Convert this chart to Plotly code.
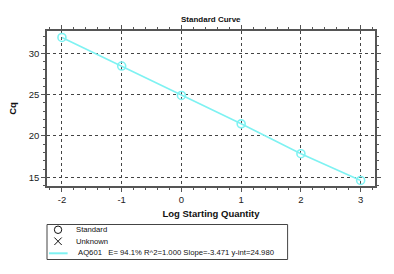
import plotly.graph_objects as go

# ---- data ----
log_qty = [-2, -1, 0, 1, 2, 3]
cq = [31.92, 28.46, 24.9, 21.47, 17.86, 14.62]
x_ticks = [-2, -1, 0, 1, 2, 3]
y_ticks = [15, 20, 25, 30]
legend_labels = ["Standard", "Unknown", "AQ601   E= 94.1% R^2=1.000 Slope=-3.471 y-int=24.980"]

CYAN = "#7ef2f2"
AXC = "#555555"
FONT = "Liberation Sans, Arial, sans-serif"

W, H = 394, 274
ML, MR, MT, MB = 41, 19, 31, 88
PW, PH = W - ML - MR, H - MT - MB

def px(x):
    return (x - ML) / PW

def py(y):
    return (H - MB - y) / PH

fig = go.Figure()
fig.add_trace(go.Scatter(
    x=log_qty, y=cq, mode="lines+markers",
    line=dict(color=CYAN, width=1.6),
    marker=dict(symbol="circle-open", size=8, color=CYAN, line=dict(width=1.6, color=CYAN)),
    showlegend=False, hoverinfo="x+y",
))

axis_common = dict(
    showline=True, linecolor=AXC, linewidth=1.5, mirror="allticks",
    ticks="outside", ticklen=4, tickwidth=1, tickcolor=AXC,
    showgrid=True, gridcolor="#444444", griddash="dot", gridwidth=1,
    zeroline=False,
    tickfont=dict(family=FONT, size=9.5, color="#222222"),
)

fig.update_xaxes(
    range=[-2.25, 3.24], tickvals=x_ticks, ticktext=[str(v) for v in x_ticks],
    minor=dict(dtick=0.2, tick0=0, ticks="outside", ticklen=2, tickcolor=AXC, showgrid=False),
    title=dict(text="<b>Log Starting Quantity</b>", font=dict(family=FONT, size=9.5, color="#111"), standoff=6),
    **axis_common,
)
fig.update_yaxes(
    range=[13.95, 32.7], tickvals=y_ticks, ticktext=[str(v) for v in y_ticks],
    minor=dict(dtick=1, tick0=0, ticks="outside", ticklen=2, tickcolor=AXC, showgrid=False),
    title=dict(text="<b>Cq</b>", font=dict(family=FONT, size=9.5, color="#111"), standoff=10),
    **axis_common,
)

# ---- manual legend box ----
shapes = [
    dict(type="rect", xref="paper", yref="paper",
         x0=px(41), x1=px(286), y0=py(224.5), y1=py(259.5),
         line=dict(color="#444444", width=1), fillcolor="white"),
    # circle symbol
    dict(type="circle", xref="paper", yref="paper",
         x0=px(48.5), x1=px(56), y0=py(226), y1=py(233.5),
         line=dict(color="#111111", width=1)),
    # X symbol
    dict(type="line", xref="paper", yref="paper",
         x0=px(48.5), x1=px(56), y0=py(237.5), y1=py(245),
         line=dict(color="#111111", width=1)),
    dict(type="line", xref="paper", yref="paper",
         x0=px(48.5), x1=px(56), y0=py(245), y1=py(237.5),
         line=dict(color="#111111", width=1)),
    # cyan line symbol
    dict(type="line", xref="paper", yref="paper",
         x0=px(43), x1=px(62), y0=py(253.3), y1=py(253.3),
         line=dict(color=CYAN, width=2)),
]

annotations = [
    dict(text="<b>Standard Curve</b>", xref="paper", yref="paper",
         x=px(208), y=py(20), showarrow=False, xanchor="center", yanchor="middle",
         font=dict(family=FONT, size=8, color="#111")),
]
legend_pos = [(68, 229.7), (68, 241), (71, 252.8)]
for lab, (lx, ly) in zip(legend_labels, legend_pos):
    annotations.append(dict(text=lab, xref="paper", yref="paper", x=px(lx), y=py(ly),
                            showarrow=False, xanchor="left", yanchor="middle",
                            font=dict(family=FONT, size=7.7, color="#111")))

fig.update_layout(
    width=W, height=H,
    margin=dict(l=ML, r=MR, t=MT, b=MB),
    paper_bgcolor="white", plot_bgcolor="white",
    shapes=shapes, annotations=annotations,
    showlegend=False,
)

fig.write_html("out.html")
